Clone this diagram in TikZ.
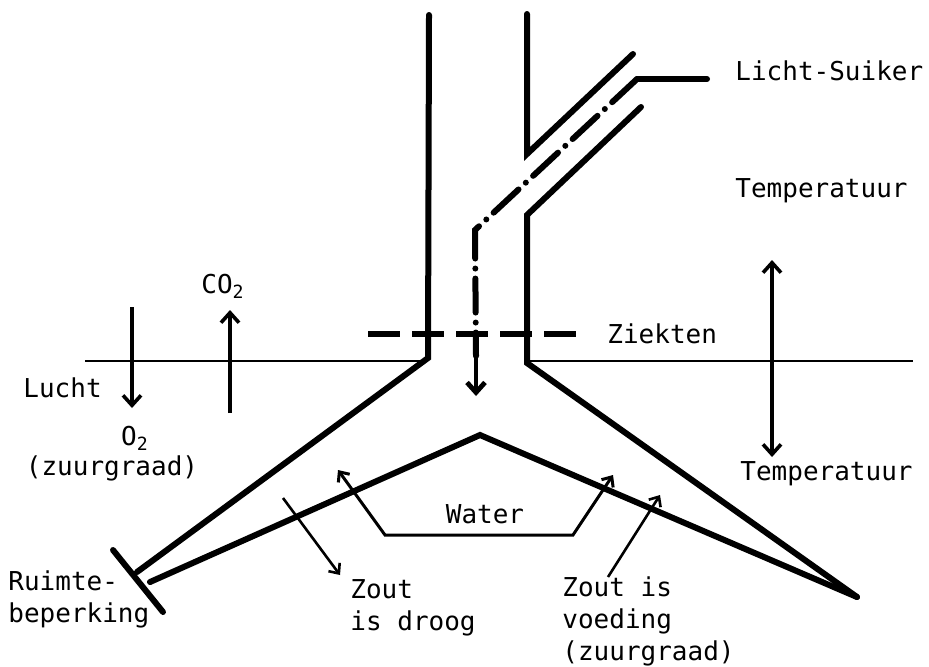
\documentclass[tikz,border=0pt]{standalone}
\usepackage{fontspec}
\setmainfont{DejaVu Sans Mono}
\usetikzlibrary{arrows.meta}

\tikzset{
  wall/.style={line width=3pt, line cap=round, line join=miter},
  ground/.style={line width=1.4pt},
  flow/.style={line width=1.8pt, -{Straight Barb[length=5pt,width=9pt]}},
  bothflow/.style={line width=1.8pt, {Straight Barb[length=5pt,width=9pt]}-{Straight Barb[length=5pt,width=9pt]}},
  thinflow/.style={line width=1.3pt, -{Straight Barb[length=4pt,width=7pt]}},
  tag/.style={font=\fontsize{13}{16}\selectfont, inner sep=0pt, anchor=base west, align=left},
}

\begin{document}
\begin{tikzpicture}[x=0.5pt, y=-0.5pt]
	\useasboundingbox (0,0) rectangle (929,666);
	
	% Stem
	\coordinate (SL1) at (429,15);
	\coordinate (SL2) at (428,358);
	\coordinate (SR1) at (527,14);
	\coordinate (SR2) at (527,154);
	\coordinate (SR3) at (527,215);
	\coordinate (SR4) at (527,363);
	
	% Side branch for the light
	\coordinate (BU) at (633,54);
	\coordinate (BL) at (641,107);
	
	% Roots
	\coordinate (RL) at (137,572);
	\coordinate (RR) at (857,597);
	\coordinate (RI) at (150,582);
	\coordinate (RA) at (480,435);
	
	% Draw the stem, the branch and the roots
	\draw[wall] (SL1) -- (SL2) -- (RL);
	\draw[wall] (SR1) -- (SR2) -- (BU);
	\draw[wall] (BL) -- (SR3) -- (SR4) -- (RR);
	\draw[wall] (RI) -- (RA) -- (RR);
	\draw[wall] (113,550) coordinate (W1) -- (163,612) coordinate (W2);
	
	% Soil level
	\draw[ground] (85,361) coordinate (G1) -- (SL2 |- G1);
	\draw[ground] (SR4 |- G1) -- (913,361) coordinate (G2);
	
	% Light and sugar
	\coordinate (LS) at (707,79);
	\coordinate (LK) at (637,79);
	\coordinate (LC) at (475,230);
	\coordinate (LD) at (476,356);
	\coordinate (LE) at (476,396);
	\draw[line width=3pt, line cap=round] (LS) -- (LK);
	\draw[line width=3pt, line cap=round, dash pattern=on 17pt off 5pt on 0pt off 5pt]
		(LK) -- (LC) -- (LD);
	\draw[flow, line width=2.4pt] (LD) -- (LE);
	\node[tag] (suiker) at (735,80) {Licht-Suiker};
	
	% Diseases
	\draw[line width=3pt, dash pattern=on 16pt off 6pt] (368,334) coordinate (Z1) -- (585,334) coordinate (Z2);
	\node[tag] (ziekten) at (607,343) {Ziekten};
	
	% Temperature
	\node[tag] (tempboven) at (735,197) {Temperatuur};
	\node[tag] (temponder) at (740,480) {Temperatuur};
	\coordinate (T1) at (772,260);
	\coordinate (T2) at (772,457);
	\draw[bothflow] (T1) -- (T2);
	
	% Air
	\draw[flow] (132,307) coordinate (O1) -- (132,408) coordinate (O2);
	\draw[flow] (230,413) coordinate (C1) -- (230,310) coordinate (C2);
	\node[tag, anchor=base] (co) at (223,293) {CO\textsubscript{2}};
	\node[tag, anchor=base] (o) at (135,445) {O\textsubscript{2}};
	\node[tag, anchor=base] (zuurlucht) at (112,475) {(zuurgraad)};
	\node[tag] (lucht) at (23,397) {Lucht};
	
	% Space
	\node[tag] (ruimte) at (8,622) {Ruimte-\\beperking};
	
	% Water
	\coordinate (WA) at (338,470);
	\coordinate (WB) at (385,535);
	\coordinate (WC) at (573,535);
	\coordinate (WD) at (613,475);
	\draw[thinflow, {Straight Barb[length=4pt,width=7pt]}-{Straight Barb[length=4pt,width=7pt]}, line width=1.5pt]
		(WA) -- (WB) -- (WC) -- (WD);
	\node[tag, anchor=base] (water) at (485,523) {Water};
	
	% Salt
	\draw[thinflow] (283,498) coordinate (D1) -- (340,575) coordinate (D2);
	\node[tag] (droog) at (350,630) {Zout\\is droog};
	\draw[thinflow] (608,577) coordinate (V1) -- (660,495) coordinate (V2);
	\node[tag] (voeding) at (562,660) {Zout is\\voeding\\(zuurgraad)};
\end{tikzpicture}
\end{document}
